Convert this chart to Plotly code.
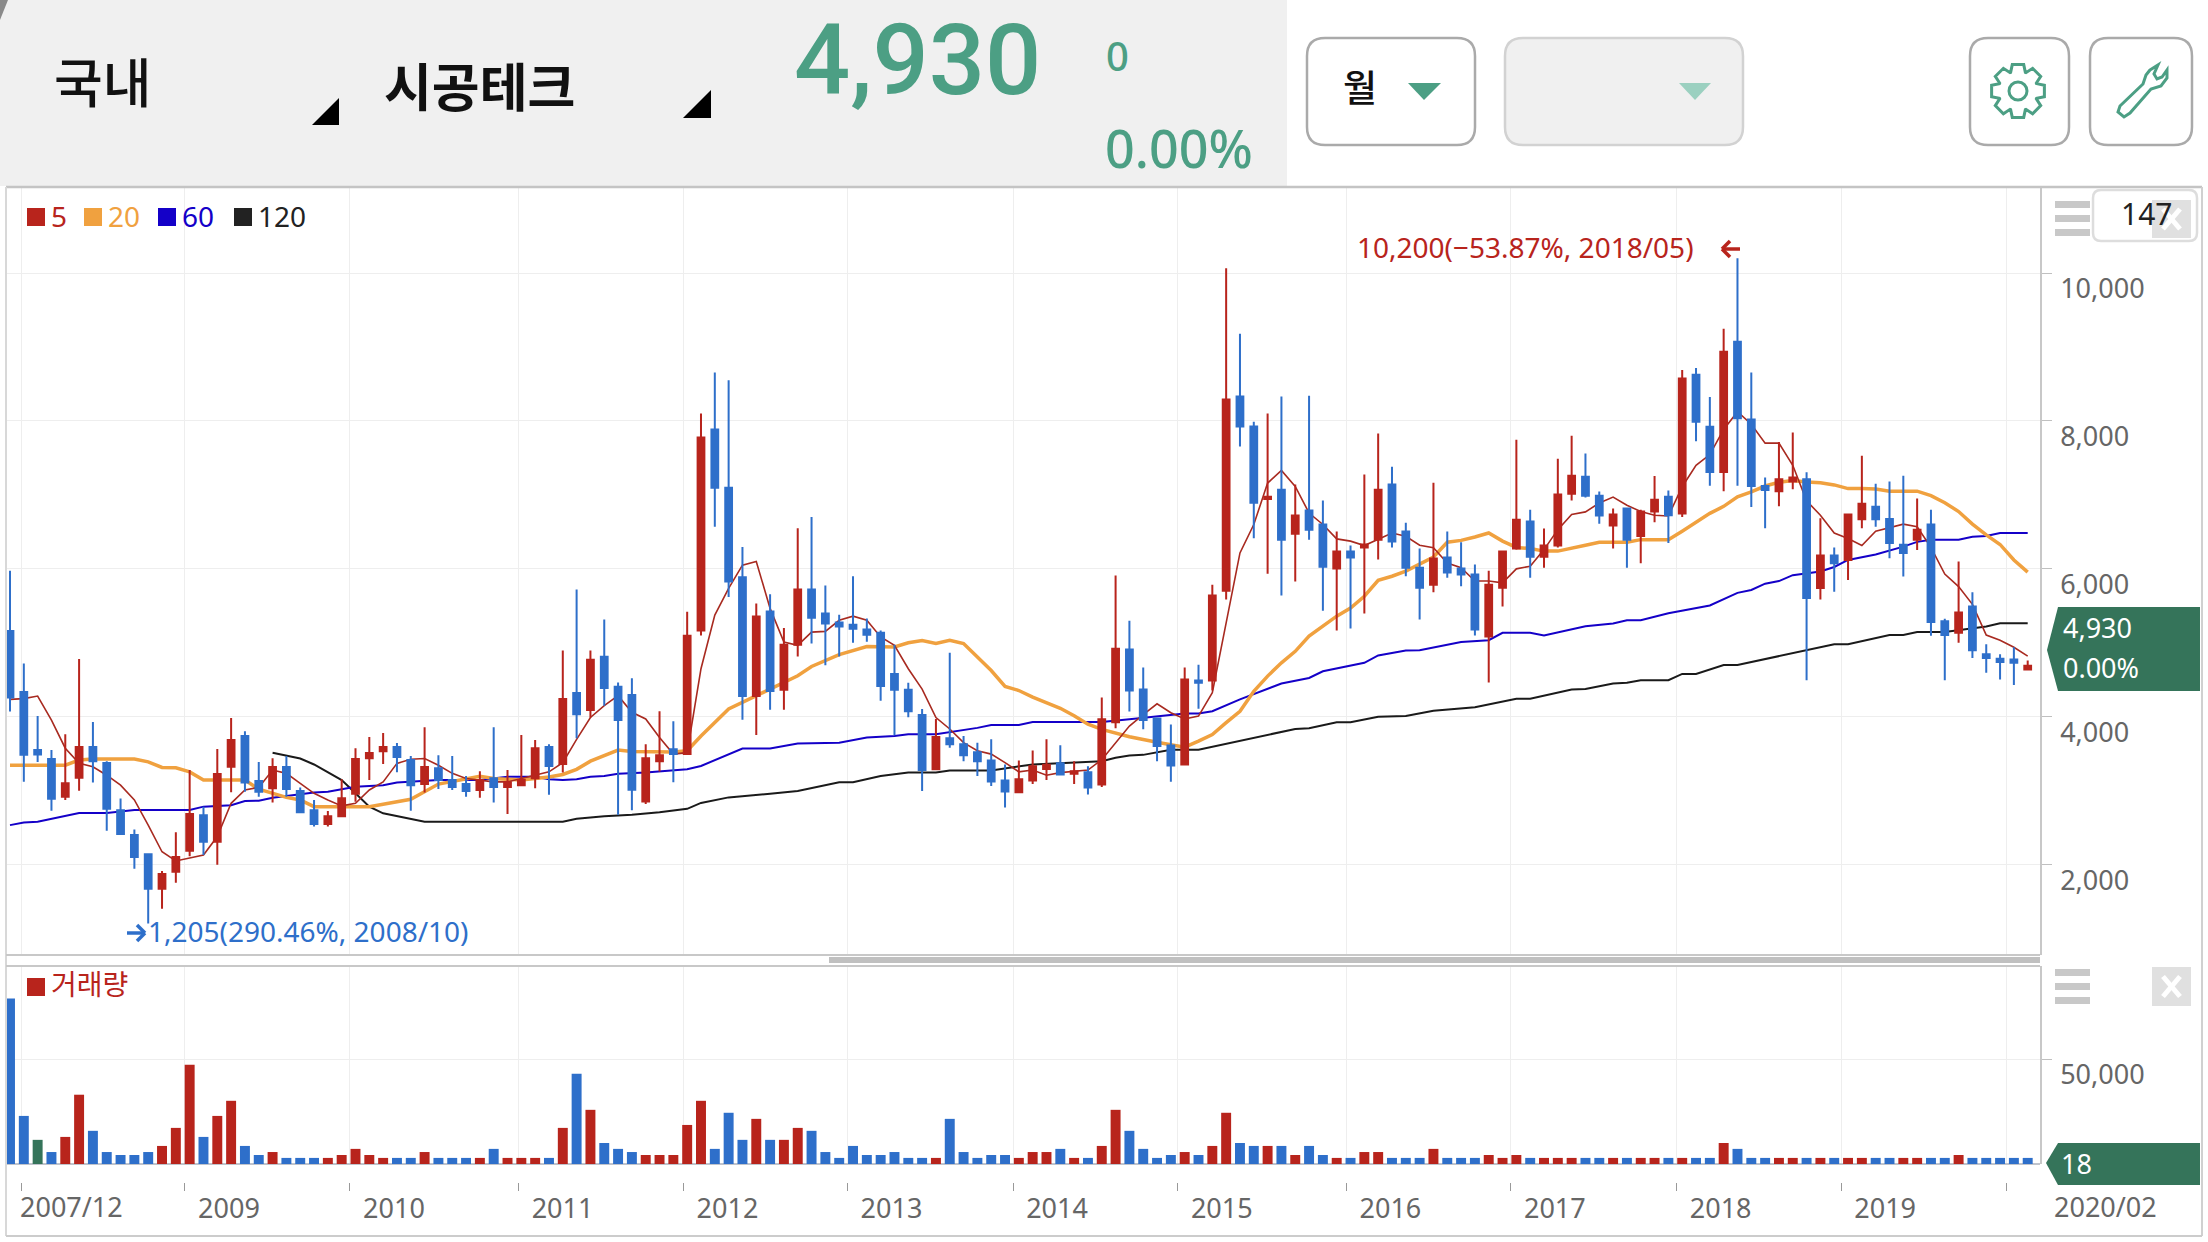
import math

import plotly.graph_objects as go

W, H = 2208, 1242

open_ = [5160, 4335, 3550, 3430, 2920, 3175, 3590, 3375, 2735, 2400,
         2140, 1675, 1905, 2190, 2670, 2310, 3325, 3740, 3130, 3035,
         3320, 2995, 2735, 2550, 2655, 2960, 3440, 3535, 3590, 3415,
         3090, 3305, 3145, 3090, 3010, 3170, 3050, 3075, 3170, 3590,
         3360, 4320, 4090, 4810, 4405, 4295, 2855, 3400, 3560, 3495,
         5165, 7885, 7095, 5885, 4280, 5425, 4365, 4975, 5720, 5395,
         5275, 5245, 5180, 5135, 4580, 4365, 4025, 3290, 3710, 3630,
         3520, 3410, 3140, 2980, 3140, 3295, 3370, 3230, 3250, 3085,
         3925, 4910, 4370, 3975, 3610, 3355, 4490, 4490, 5705, 8330,
         7925, 6945, 7070, 6475, 6790, 6600, 6005, 6235, 6290, 6395,
         7140, 6505, 6015, 5785, 6155, 6005, 5925, 5085, 5745, 6275,
         6640, 6165, 6315, 7015, 7245, 6990, 6585, 6815, 6445, 6775,
         6975, 6750, 8625, 7920, 7310, 9070, 8020, 7120, 7050, 7180,
         7210, 5740, 6180, 6120, 6670, 6840, 6675, 6325, 6395, 6600,
         5290, 5135, 5490, 4845, 4785, 4775, 4640]
high = [5975, 4720, 4010, 3550, 3765, 4780, 3930, 3400, 2895, 2475,
        2145, 1915, 2440, 3280, 2785, 3565, 3985, 3805, 3390, 3440,
        3470, 3045, 2875, 2725, 3155, 3575, 3725, 3780, 3645, 3470,
        3860, 3480, 3470, 3200, 3265, 3860, 3280, 3755, 3685, 3630,
        4895, 5720, 4895, 5315, 4465, 4520, 3630, 4075, 3940, 5420,
        8100, 8655, 8550, 6295, 5530, 5655, 5200, 6550, 6700, 5775,
        5380, 5900, 5330, 5165, 4975, 4460, 4105, 3970, 4865, 3740,
        3650, 3695, 3355, 3410, 3545, 3695, 3615, 3400, 3330, 4260,
        5910, 5300, 4665, 3980, 3895, 4665, 4705, 5785, 10065, 9180,
        7990, 8100, 8330, 7140, 8340, 6925, 6505, 6315, 7275, 7830,
        7380, 6625, 6275, 7165, 6505, 6360, 6060, 5975, 6245, 7745,
        6800, 6545, 7490, 7800, 7560, 7045, 6815, 6825, 6800, 7255,
        7060, 8690, 8715, 8325, 9245, 10200, 8655, 7235, 7715, 7845,
        7305, 6685, 6290, 6750, 7530, 7150, 7180, 7260, 6950, 6800,
        5325, 6100, 5685, 4980, 4845, 4940, 4760]
low = [4070, 3120, 3390, 2730, 2875, 3000, 3110, 2460, 2400, 1945,
       1205, 1405, 1755, 2115, 2130, 2000, 2980, 2985, 2920, 2840,
       2920, 2695, 2515, 2515, 2650, 2850, 3145, 3360, 3250, 2730,
       2975, 3025, 3010, 2920, 2905, 2840, 2685, 3070, 3035, 2945,
       3245, 3710, 3990, 4150, 2675, 2735, 2820, 3260, 3115, 3485,
       5100, 6570, 5620, 3960, 3755, 4095, 4095, 4815, 4990, 4695,
       4815, 5000, 5015, 4215, 3750, 3995, 2995, 3280, 3580, 3400,
       3200, 3065, 2775, 2980, 3090, 3145, 3210, 3090, 2950, 3050,
       3845, 4070, 3830, 3400, 3120, 3340, 4110, 4355, 5585, 7655,
       6415, 5935, 5640, 5830, 6395, 5435, 5165, 5195, 5395, 6125,
       6290, 5900, 5315, 5685, 5880, 5765, 5100, 4465, 5490, 6260,
       5880, 6015, 6290, 6925, 6965, 6610, 6275, 6015, 6075, 6630,
       6350, 6700, 7725, 7125, 7050, 7125, 6835, 6550, 6845, 7075,
       4495, 5585, 5690, 5850, 6550, 6570, 6145, 5895, 6255, 5095,
       4495, 5000, 4795, 4595, 4505, 4430, 4640]
close_ = [4260, 3485, 3490, 2890, 3100, 3590, 3400, 2755, 2415, 2105,
          1675, 1875, 2105, 2685, 2310, 3225, 3685, 3110, 2985, 3320,
          3025, 2710, 2550, 2655, 2900, 3430, 3510, 3590, 3455, 3075,
          3320, 3145, 3050, 2995, 3145, 3050, 3115, 3145, 3575, 3335,
          4240, 4035, 4770, 4390, 3955, 3015, 3440, 3480, 3495, 5095,
          7775, 7095, 5830, 4280, 5355, 4350, 4975, 5720, 5340, 5260,
          5220, 5190, 5110, 4415, 4365, 4075, 3280, 3725, 3630, 3480,
          3400, 3125, 2990, 3155, 3330, 3350, 3220, 3265, 3045, 3965,
          4920, 4355, 3955, 3605, 3340, 4505, 4460, 5640, 8290, 7925,
          6895, 6975, 6395, 6720, 6530, 6030, 6235, 6155, 6330, 7070,
          6370, 6015, 5745, 6140, 5950, 5925, 5180, 5785, 6235, 6665,
          6165, 6315, 7005, 7260, 6990, 6720, 6735, 6395, 6775, 6935,
          6725, 8575, 7990, 7310, 8935, 8035, 7120, 7065, 7210, 7235,
          5605, 6180, 6075, 6735, 6880, 6670, 6350, 6215, 6530, 5280,
          5105, 5410, 4900, 4795, 4740, 4730, 4690]

ma5 = [4235, 4245, 4280, 3955, 3575, 3370, 3325, 3210, 3075, 2875,
       2535, 2175, 2050, 2085, 2130, 2380, 2830, 3010, 3045, 3280,
       3235, 3100, 2965, 2875, 2795, 2830, 3010, 3120, 3370, 3425,
       3435, 3345, 3235, 3165, 3145, 3120, 3120, 3165, 3210, 3255,
       3380, 3695, 3990, 4150, 4285, 4060, 3970, 3720, 3495, 3515,
       4650, 5375, 5735, 6050, 6100, 5465, 5010, 4965, 5145, 5155,
       5305, 5360, 5305, 5080, 4965, 4650, 4375, 3990, 3835, 3650,
       3540, 3495, 3380, 3255, 3280, 3210, 3245, 3265, 3280, 3420,
       3650, 3875, 4030, 4175, 4055, 3970, 4010, 4325, 5270, 6215,
       6600, 7160, 7330, 7115, 6755, 6600, 6405, 6375, 6315, 6405,
       6485, 6440, 6320, 6285, 6080, 6015, 5835, 5835, 5810, 6000,
       6035, 6260, 6530, 6735, 6770, 6890, 6970, 6860, 6775, 6725,
       6715, 7110, 7400, 7545, 7885, 8125, 7955, 7700, 7700, 7400,
       6920, 6725, 6485, 6410, 6315, 6510, 6555, 6605, 6570, 6290,
       5930, 5760, 5520, 5105, 5035, 4940, 4820]

ma20_idx = [0, 4, 5, 6, 9, 10, 11, 12, 13, 14, 17, 18, 20, 21, 22, 26, 29, 30, 31, 34, 35, 37, 39, 40,
            41, 42, 44, 45, 48, 49, 50, 52, 54, 55, 57, 58, 60, 62, 64, 65, 66, 67, 68, 69, 70, 71, 72,
            73, 74, 75, 76, 77, 78, 79, 80, 81, 83, 85, 86, 87, 88, 89, 90, 91, 92, 93, 94, 95, 96, 97,
            98, 99, 100, 101, 102, 103, 104, 105, 106, 107, 108, 109, 110, 111, 112, 113, 114, 115, 116,
            117, 118, 120, 121, 122, 123, 124, 125, 126, 127, 128, 129, 130, 131, 132, 133, 134, 135,
            136, 138, 139, 140, 141, 142, 143, 144, 145, 146]
ma20 = [3345, 3345, 3415, 3430, 3430, 3390, 3315, 3310, 3255, 3145, 3145, 3020, 2910, 2875, 2785, 2785, 2885, 2985, 3090, 3195, 3165, 3145, 3185, 3220,
        3290, 3400, 3550, 3530, 3525, 3540, 3740, 4105, 4285, 4375, 4555, 4680, 4840, 4950, 4945, 5000, 5030, 4990, 5035, 4990, 4805, 4625, 4410,
        4355, 4265, 4185, 4115, 4015, 3900, 3830, 3775, 3730, 3655, 3590, 3670, 3760, 3920, 4075, 4345, 4550, 4730, 4885, 5090, 5225, 5360, 5470,
        5630, 5845, 5900, 5970, 6060, 6160, 6360, 6385, 6430, 6485, 6375, 6290, 6275, 6240, 6240, 6285, 6320, 6360, 6360,
        6360, 6395, 6395, 6510, 6630, 6750, 6845, 6975, 7040, 7120, 7170, 7195, 7175, 7165, 7135, 7085, 7085, 7080,
        7050, 7050, 6990, 6895, 6775, 6605, 6460, 6330, 6120, 5955]

ma60_idx = [0, 1, 2, 5, 7, 9, 13, 14, 16, 17, 18, 19, 20, 22, 23, 25, 27, 28, 31, 34, 36, 38, 39, 40, 41,
            42, 43, 44, 46, 49, 50, 52, 53, 55, 57, 60, 62, 64, 65, 67, 70, 71, 73, 74, 79, 81, 83, 85,
            86, 87, 89, 90, 91, 92, 94, 95, 98, 99, 101, 102, 105, 107, 108, 110, 111, 114, 116, 117,
            118, 120, 123, 125, 126, 127, 128, 129, 131, 132, 133, 135, 137, 138, 139, 141, 142, 143, 144, 146]
ma60 = [2535, 2570, 2580, 2700, 2700, 2740, 2740, 2785, 2805, 2860, 2865, 2905, 2930, 2975, 2985, 3055, 3075, 3110, 3145, 3145, 3190, 3190, 3155, 3145, 3155,
        3190, 3200, 3230, 3245, 3290, 3335, 3495, 3570, 3570, 3640, 3650, 3720, 3740, 3765, 3765, 3850, 3890, 3890, 3930, 3930, 3965, 4010, 4045,
        4045, 4075, 4235, 4310, 4375, 4450, 4525, 4615, 4730, 4830, 4895, 4900, 5010, 5035, 5135, 5135, 5100, 5225, 5260, 5305,
        5305, 5400, 5505, 5675, 5715, 5800, 5835, 5915, 5965, 6025, 6120, 6195, 6300, 6365, 6395, 6395, 6435, 6445, 6485, 6485]

ma120_idx = [19, 21, 22, 24, 25, 26, 27, 30, 40, 41, 43, 45, 47, 49, 50, 52, 55, 57, 60, 61, 63, 65, 67, 68, 71, 74,
             79, 80, 81, 82, 84, 86, 93, 94, 96, 97, 99, 101, 103, 105, 106, 109, 110, 113, 114, 116, 117,
             118, 120, 121, 122, 124, 125, 132, 133, 136, 137, 138, 140, 143, 144, 146]
ma120 = [3515, 3435, 3355, 3145, 2965, 2785, 2695, 2580, 2580, 2620, 2655, 2675, 2710, 2755, 2835, 2910, 2960, 2995, 3115, 3115, 3200, 3245, 3245, 3275, 3275, 3355,
         3400, 3445, 3475, 3485, 3555, 3555, 3835, 3845, 3925, 3925, 4000, 4010, 4080, 4120, 4130, 4245, 4245, 4370, 4375, 4450, 4460,
         4495, 4495, 4580, 4580, 4700, 4700, 4980, 4980, 5105, 5105, 5145, 5145, 5220, 5265, 5265]

volume = [78800, 22900, 11500, 5700, 12900, 33000, 15800, 5700, 4300, 4300,
          5700, 8600, 17200, 47300, 12900, 22900, 30100, 8600, 4300, 5700,
          2900, 2900, 2900, 2900, 4300, 7200, 4300, 2900, 2900, 2900,
          5700, 2900, 2900, 2900, 2900, 7200, 2900, 2900, 2900, 2900,
          17200, 43000, 25800, 10000, 7200, 5700, 4300, 4300, 4300, 18600,
          30100, 7200, 24400, 11500, 21500, 11500, 11500, 17200, 15800, 5700,
          2900, 8600, 4300, 4300, 5700, 2900, 2900, 2900, 21500, 5700,
          2900, 4300, 4300, 2900, 5700, 5700, 7200, 2900, 2900, 8600,
          25800, 15800, 7200, 2900, 4300, 5700, 4300, 8600, 24400, 10000,
          8600, 8600, 8600, 4300, 8600, 4300, 2900, 2900, 5700, 5700,
          2900, 2900, 2900, 7200, 2900, 2900, 2900, 4300, 2900, 4300,
          2900, 2900, 2900, 2900, 2900, 2900, 2900, 2900, 2900, 2900,
          2900, 2900, 2900, 2900, 10000, 7200, 2900, 2900, 2900, 2900,
          2900, 2900, 2900, 2900, 2900, 2900, 2900, 2900, 2900, 2900,
          2900, 4300, 2900, 2900, 2900, 2900, 2900]
# r = up month, b = down month, g = unchanged
volume_kind = ("bbgbrrbbbb" "brrrbrrbbr" "bbbrrrrrbb" "rbbbrbrrrb" "rbrbbbrrrr"
               "rbbbrbrrbb" "bbbbbbbrbb" "bbbrrrbrbr" "rbbbbrbrrb" "brbrbbrbrr"
               "bbbrbbbrrr" "brrrbbrbrr" "brbbrbbbrr" "brbrrbbrrb" "brbbbbb")

tick_pos = [0.8, 12.66, 24.6, 36.8, 48.73, 60.6, 72.58, 84.5, 96.7, 108.6, 120.6, 132.5, 144.5]
tick_text = ["", "2009", "2010", "2011", "2012", "2013", "2014", "2015", "2016", "2017", "2018", "2019", ""]
price_ticks = [2000, 4000, 6000, 8000, 10000]

RED = "#b8241c"
BLUE = "#2e6fca"
GREEN = "#4c9f84"
DARK_GREEN = "#35745a"
ORANGE = "#f0a13f"
FONT = '"Noto Sans", "Noto Sans CJK KR"'

x_days = list(range(len(close_)))
x_range = [-0.217, 146.89]
y_range = [779, 11163]
shapes = []
notes = []


def X(x):
    return x / W


def Y(y):
    return 1 - y / H


def rect(x0, y0, x1, y1, fill, layer="above", opacity=1):
    shapes.append(dict(type="rect", xref="paper", yref="paper", x0=X(x0), x1=X(x1), y0=Y(y0), y1=Y(y1),
                       fillcolor=fill, line_width=0, layer=layer, opacity=opacity))


def line(x0, y0, x1, y1, color, width=2, layer="above"):
    shapes.append(dict(type="line", xref="paper", yref="paper", x0=X(x0), x1=X(x1), y0=Y(y0), y1=Y(y1),
                       line=dict(color=color, width=width), layer=layer))


def poly(points, fill=None, color=None, width=0):
    path = "M " + " L ".join(f"{X(a):.5f},{Y(b):.5f}" for a, b in points) + " Z"
    shapes.append(dict(type="path", xref="paper", yref="paper", path=path, layer="above",
                       fillcolor=fill or "rgba(0,0,0,0)", line=dict(color=color or "rgba(0,0,0,0)", width=width)))


def round_box(x0, y0, x1, y1, r, fill, color, width=2.5):
    def p(a, b):
        return f"{X(a):.5f},{Y(b):.5f}"
    path = (f"M {p(x0 + r, y0)} L {p(x1 - r, y0)} Q {p(x1, y0)} {p(x1, y0 + r)} L {p(x1, y1 - r)} "
            f"Q {p(x1, y1)} {p(x1 - r, y1)} L {p(x0 + r, y1)} Q {p(x0, y1)} {p(x0, y1 - r)} "
            f"L {p(x0, y0 + r)} Q {p(x0, y0)} {p(x0 + r, y0)} Z")
    shapes.append(dict(type="path", xref="paper", yref="paper", path=path, layer="above",
                       fillcolor=fill, line=dict(color=color, width=width)))


def text(x, y, s, size, color, anchor="left", weight=400, family=FONT):
    notes.append(dict(xref="paper", yref="paper", x=X(x), y=Y(y), text=s, showarrow=False, xanchor=anchor,
                      yanchor="middle", borderpad=0,
                      font=dict(family=family, size=size, color=color, weight=weight)))


def gear_points(cx, cy, r_out, r_in, teeth=8):
    pts = []
    for i in range(teeth):
        a = 2 * math.pi * i / teeth
        step = 2 * math.pi / teeth
        for da, r in [(-0.30, r_in), (-0.17, r_out), (0.17, r_out), (0.30, r_in)]:
            pts.append((cx + r * math.cos(a + da * step * 1.6), cy + r * math.sin(a + da * step * 1.6)))
    return pts


# page frame and panel lines
rect(0, 0, 1287, 186, "#f0f0f0")
poly([(0, 0), (8, 0), (0, 20)], fill="#8a8a8a")
line(6, 187, 2202, 187, "#c4c4c4", 2.5)
line(6, 187, 6, 1236, "#d8d8d8", 2)
line(2202, 187, 2202, 1236, "#d0d0d0", 2)
line(6, 1236, 2202, 1236, "#cccccc", 2)
line(6, 955, 2040, 955, "#c8c8c8", 2)
line(6, 966, 2040, 966, "#c8c8c8", 2)
rect(829, 957, 2040, 963, "#c0c0c0")

# header
text(53, 83, "국내", 53, "#111111", weight=500)
poly([(339, 98), (339, 125), (312, 125)], fill="#000000")
text(383, 87, "시공테크", 52, "#111111", weight=700)
poly([(711, 90), (711, 118), (683, 118)], fill="#000000")
text(793, 60, "4,930", 99, GREEN, weight=500, family="Roboto")
text(1105, 56, "0", 40, GREEN, weight=500)
text(1104, 148, "0.00%", 52, GREEN, weight=500)

round_box(1307, 38, 1475, 145, 18, "#ffffff", "#aaaaaa")
text(1360, 88, "월", 37, "#111111", anchor="center", weight=500)
poly([(1408, 83), (1441, 83), (1424, 100)], fill=GREEN)
round_box(1505, 38, 1743, 145, 18, "#f0f0f0", "#d2d2d2")
poly([(1679, 83), (1711, 83), (1695, 100)], fill="#9bd0c0")
round_box(1970, 38, 2069, 145, 18, "#ffffff", "#aaaaaa")
poly(gear_points(2018, 91, 27, 20), color=GREEN, width=3)
shapes.append(dict(type="circle", xref="paper", yref="paper", x0=X(2009), x1=X(2027), y0=Y(100), y1=Y(82),
                   line=dict(color=GREEN, width=3), layer="above"))
round_box(2090, 38, 2192, 145, 18, "#ffffff", "#aaaaaa")
poly([(2150, 70), (2158, 65), (2154, 74), (2157, 79), (2162, 77), (2167, 70), (2167, 78), (2161, 86), (2151, 89),
      (2130, 113), (2124, 117), (2118, 112), (2120, 106), (2143, 84), (2146, 75)], color=GREEN, width=3)

# legends
legend_items = [(27, "5", RED), (84, "20", ORANGE), (158, "60", "#1400c8"), (234, "120", "#222222")]
for left, name, color in legend_items:
    rect(left, 208, left + 18, 226, color)
    text(left + 23, 216, name, 28, color)
rect(27, 978, 45, 996, RED)
text(50, 984, "거래량", 28, RED)

# notes for the high and low
text(1356, 247, "10,200(−53.87%, 2018/05)", 28, RED)
line(1722, 249, 1740, 249, RED, 3.5)
line(1722, 249, 1730, 241, RED, 3.5)
line(1722, 249, 1730, 257, RED, 3.5)
text(147, 931, "1,205(290.46%, 2008/10)", 28, BLUE)
line(127, 933, 145, 933, BLUE, 3.5)
line(145, 933, 137, 925, BLUE, 3.5)
line(145, 933, 137, 941, BLUE, 3.5)

# side controls
for top in (201, 969):
    for i in range(3):
        rect(2055, top + i * 14, 2090, top + i * 14 + 7, "#c8c8c8")
round_box(2093, 190, 2197, 241, 8, "#ffffff", "#dddddd")
text(2146, 214, "147", 30, "#222222", anchor="center")
for top, bottom in ((200, 238), (967, 1006)):
    rect(2152, top, 2191, bottom, "#d8d8d8", opacity=0.8)
    middle = (top + bottom) / 2
    line(2163, middle - 10, 2180, middle + 10, "#ffffff", 5)
    line(2180, middle - 10, 2163, middle + 10, "#ffffff", 5)

# current price and volume tags
poly([(2047, 650), (2058, 607), (2200, 607), (2200, 691), (2058, 691)], fill=DARK_GREEN)
text(2062, 627, "4,930", 27, "#ffffff")
text(2062, 668, "0.00%", 27, "#ffffff")
poly([(2046, 1163), (2058, 1143), (2200, 1143), (2200, 1185), (2058, 1185)], fill=DARK_GREEN)
text(2060, 1163, "18", 27, "#ffffff")

# first and last date labels sit apart from the year ticks
text(19, 1206, "2007/12", 27, "#666666")
text(2105, 1206, "2020/02", 27, "#666666", anchor="center")

fig = go.Figure()
fig.add_trace(go.Scatter(x=ma120_idx, y=ma120, mode="lines", line=dict(color="#1a1a1a", width=2)))
fig.add_trace(go.Scatter(x=ma60_idx, y=ma60, mode="lines", line=dict(color="#1400c8", width=2)))
fig.add_trace(go.Scatter(x=ma20_idx, y=ma20, mode="lines", line=dict(color=ORANGE, width=3.5)))
fig.add_trace(go.Scatter(x=x_days, y=ma5, mode="lines", line=dict(color="#a82a20", width=1.6)))
# candles go on an overlay axis pair, otherwise plotly draws the lines over them
fig.add_trace(go.Candlestick(x=x_days, open=open_, high=high, low=low, close=close_, xaxis="x3", yaxis="y3",
                             whiskerwidth=0,
                             increasing=dict(line=dict(color=RED, width=2), fillcolor=RED),
                             decreasing=dict(line=dict(color=BLUE, width=2), fillcolor=BLUE)))
bar_colors = [{"r": RED, "b": BLUE, "g": DARK_GREEN}[k] for k in volume_kind]
fig.add_trace(go.Bar(x=x_days, y=volume, xaxis="x2", yaxis="y2", width=0.72,
                     marker=dict(color=bar_colors, line_width=0)))

grid = "#eeeeee"
tick_font = dict(family=FONT, size=27, color="#666666")
fig.update_layout(
    template="none", width=W, height=H, margin=dict(l=0, r=0, t=0, b=0),
    paper_bgcolor="#ffffff", plot_bgcolor="rgba(0,0,0,0)", showlegend=False, hovermode=False,
    font=dict(family=FONT, size=27, color="#666666"),
    shapes=shapes, annotations=notes,
    xaxis=dict(domain=[X(7), X(2040)], range=x_range, tickmode="array", tickvals=tick_pos, showticklabels=False,
               ticks="", showgrid=True, gridcolor=grid, zeroline=False, rangeslider=dict(visible=False), anchor="y"),
    yaxis=dict(domain=[Y(955), Y(187)], range=y_range, side="right", anchor="x", tickmode="array",
               tickvals=price_ticks, tickformat=",d", ticks="outside", ticklen=10, tickcolor="#c0c0c0",
               tickfont=tick_font, ticklabelposition="outside bottom", ticklabelstandoff=13, ticklabelshift=-4,
               showgrid=True, gridcolor=grid, zeroline=False, showline=True, linecolor="#c8c8c8", linewidth=1.5),
    xaxis3=dict(overlaying="x", range=x_range, visible=False, rangeslider=dict(visible=False), anchor="y3"),
    yaxis3=dict(overlaying="y", range=y_range, visible=False, anchor="x3"),
    xaxis2=dict(domain=[X(7), X(2040)], range=x_range, tickmode="array", tickvals=tick_pos, ticktext=tick_text,
                anchor="free", position=Y(1182), ticks="outside", ticklen=8, tickcolor="#999999", tickfont=tick_font,
                ticklabelshift=44, ticklabelstandoff=-5, showgrid=True, gridcolor=grid, zeroline=False, showline=False),
    yaxis2=dict(domain=[Y(1164), Y(966)], range=[0, 94300], side="right", anchor="x2", tickmode="array",
                tickvals=[50000], tickformat=",d", ticks="outside", ticklen=10, tickcolor="#c0c0c0", tickfont=tick_font,
                ticklabelposition="outside bottom", ticklabelstandoff=13, ticklabelshift=-4, showgrid=True,
                gridcolor=grid, zeroline=True, zerolinecolor="#c0c4cc", zerolinewidth=2, showline=True,
                linecolor="#c8c8c8", linewidth=1.5),
)

fig.write_html("out.html", config={"displayModeBar": False},
               post_script="document.body.style.margin='0';document.body.style.overflow='hidden';")
